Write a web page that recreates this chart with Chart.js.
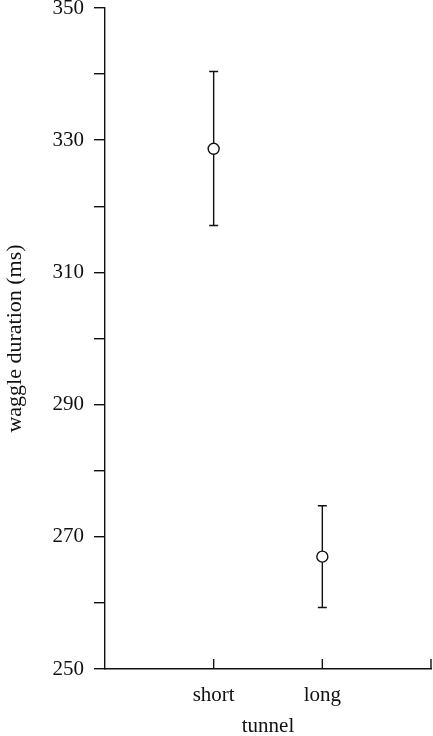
<!DOCTYPE html>
<html>
<head>
<meta charset="utf-8">
<script src="https://cdn.jsdelivr.net/npm/chart.js@4/dist/chart.umd.min.js"></script>
<style>
  body { margin: 0; background: #fff; }
</style>
</head>
<body>
<canvas id="waggleChart" width="433" height="736"></canvas>
<script>
// data
const tunnels = ['short', 'long']
const tunnelPos = [1, 2]
const meanDuration = [328.7, 267.0]
const upperDuration = [340.4, 274.7]
const lowerDuration = [317.1, 259.3]
const xTickPos = [1, 2, 3]

const FONT = "'Liberation Serif', 'Times New Roman', serif"
const INK = '#111'

// error bars drawn under the points
const errorBars = {
    id: 'errorBars',
    beforeDatasetsDraw(chart) {
        const { ctx, scales: { x, y } } = chart
        ctx.save()
        ctx.strokeStyle = INK
        ctx.lineWidth = 1.4
        tunnelPos.forEach((pos, i) => {
            const px = x.getPixelForValue(pos)
            const top = y.getPixelForValue(upperDuration[i])
            const bot = y.getPixelForValue(lowerDuration[i])
            ctx.beginPath()
            ctx.moveTo(px, top); ctx.lineTo(px, bot)
            ctx.moveTo(px - 4.5, top); ctx.lineTo(px + 4.5, top)
            ctx.moveTo(px - 4.5, bot); ctx.lineTo(px + 4.5, bot)
            ctx.stroke()
        })
        ctx.restore()
    }
}

// x ticks point up into the plot
const innerXTicks = {
    id: 'innerXTicks',
    afterDraw(chart) {
        const { ctx, scales: { x } } = chart
        const base = chart.chartArea.bottom
        ctx.save()
        ctx.strokeStyle = INK
        ctx.lineWidth = 1.4
        xTickPos.forEach(pos => {
            const px = x.getPixelForValue(pos)
            ctx.beginPath()
            ctx.moveTo(px, base); ctx.lineTo(px, base - 10)
            ctx.stroke()
        })
        ctx.restore()
    }
}

new Chart(document.getElementById('waggleChart'), {
    type: 'scatter',
    data: {
        datasets: [{
            data: tunnelPos.map((p, i) => ({ x: p, y: meanDuration[i] })),
            pointRadius: 5.5,
            pointHoverRadius: 5.5,
            pointBackgroundColor: '#fff',
            pointBorderColor: INK,
            pointBorderWidth: 1.4
        }]
    },
    options: {
        responsive: false,
        animation: false,
        layout: { autoPadding: false, padding: { top: 8, right: 2, left: 0, bottom: 0 } },
        plugins: { legend: { display: false }, tooltip: { enabled: false } },
        scales: {
            x: {
                type: 'linear',
                min: 0,
                max: 3,
                afterBuildTicks: s => { s.ticks = xTickPos.map(v => ({ value: v })) },
                afterFit: s => { s.height = 67; s.paddingLeft = 0; s.paddingRight = 0 },
                grid: { display: false, drawTicks: false },
                border: { display: true, color: INK, width: 1.4 },
                ticks: {
                    padding: 14,
                    maxRotation: 0,
                    color: INK,
                    font: { family: FONT, size: 21 },
                    callback: v => tunnels[tunnelPos.indexOf(v)] || ''
                },
                title: {
                    display: true,
                    text: 'tunnel',
                    color: INK,
                    font: { family: FONT, size: 21 },
                    padding: { top: 0, bottom: -3 }
                }
            },
            y: {
                min: 250,
                max: 350,
                afterFit: s => { s.width = 105; s.paddingTop = 0; s.paddingBottom = 0 },
                grid: { drawOnChartArea: false, drawTicks: true, tickLength: 11, color: INK, lineWidth: 1.4 },
                border: { display: true, color: INK, width: 1.4 },
                ticks: {
                    stepSize: 10,
                    padding: 10,
                    color: INK,
                    font: { family: FONT, size: 21 },
                    callback: v => ((v - 250) % 20 === 0 ? String(v) : '')
                },
                title: {
                    display: true,
                    text: 'waggle duration (ms)',
                    color: INK,
                    font: { family: FONT, size: 22 },
                    padding: { top: 2, bottom: 0 }
                }
            }
        }
    },
    plugins: [errorBars, innerXTicks]
})
</script>
</body>
</html>
